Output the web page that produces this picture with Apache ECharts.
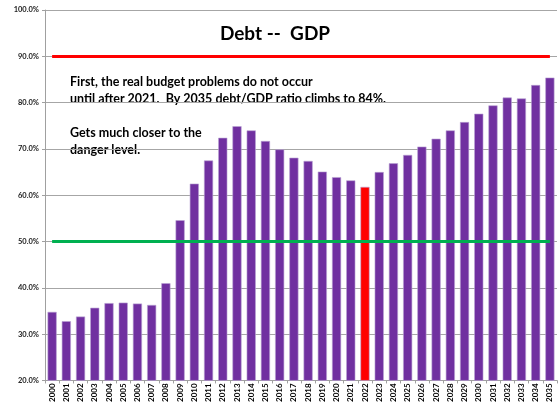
<!DOCTYPE html>
<html>
<head>
<meta charset="utf-8">
<script src="https://cdn.jsdelivr.net/npm/echarts@6/dist/echarts.min.js"></script>
<style>
  html, body { margin: 0; padding: 0; background: #fff; }
  #chart { width: 560px; height: 405px; }
</style>
</head>
<body>
<div id="chart"></div>
<script>
// debt / GDP ratio by year
const years = ['2000', '2001', '2002', '2003', '2004', '2005', '2006', '2007', '2008', '2009',
  '2010', '2011', '2012', '2013', '2014', '2015', '2016', '2017', '2018', '2019',
  '2020', '2021', '2022', '2023', '2024', '2025', '2026', '2027', '2028', '2029',
  '2030', '2031', '2032', '2033', '2034', '2035']
const debtRatio = [34.8, 32.8, 33.8, 35.7, 36.7, 36.8, 36.6, 36.3, 41.0, 54.6,
  62.5, 67.5, 72.4, 74.9, 74.0, 71.7, 69.9, 68.1, 67.4, 65.1,
  63.9, 63.2, 61.8, 65.0, 66.9, 68.7, 70.5, 72.2, 74.0, 75.8,
  77.6, 79.4, 81.1, 80.9, 83.8, 85.4]
const highlightYear = '2022'
const dangerLevel = 90
const safeLevel = 50
const yTicks = { min: 20, max: 100, step: 10 }

const noteLines = [
  'First, the real budget problems do not occur',
  'until after 2021.  By 2035 debt/GDP ratio climbs to 84%.',
  '',
  'Gets much closer to the',
  'danger level.'
]

const FONT = 'Lato, "Open Sans", sans-serif'
const purple = '#7030a0'

const chart = echarts.init(document.getElementById('chart'))

chart.setOption({
  animation: false,
  title: {
    text: 'Debt --  GDP',
    left: 270,
    top: 19,
    textAlign: 'center',
    textStyle: { fontFamily: FONT, fontSize: 19, fontWeight: 'bold', color: '#000' }
  },
  grid: { left: 45, right: 3, top: 10, bottom: 23, containLabel: false },
  xAxis: {
    type: 'category',
    data: years,
    axisLine: { lineStyle: { color: '#a0a0a0', width: 1 } },
    axisTick: { show: true, length: 3, lineStyle: { color: '#a0a0a0' } },
    axisLabel: {
      interval: 0,
      rotate: 90,
      margin: 3,
      fontFamily: FONT,
      fontSize: 8,
      fontWeight: 'bold',
      color: '#000'
    }
  },
  yAxis: {
    type: 'value',
    min: yTicks.min,
    max: yTicks.max,
    interval: yTicks.step,
    axisLine: { show: true, lineStyle: { color: '#a0a0a0' } },
    axisTick: { show: true, length: 3, lineStyle: { color: '#a0a0a0' } },
    splitLine: { lineStyle: { color: '#a6a6a6', width: 1 } },
    axisLabel: {
      formatter: v => v.toFixed(1) + '%',
      margin: 6,
      fontFamily: FONT,
      fontSize: 7.5,
      fontWeight: 'bold',
      color: '#222'
    }
  },
  graphic: [{
    type: 'text',
    left: 70,
    top: 73,
    style: {
      text: noteLines.join('\n'),
      font: 'bold 12.5px ' + FONT,
      lineHeight: 17,
      fill: '#000'
    }
  }],
  series: [{
    type: 'bar',
    barWidth: '64%',
    data: debtRatio.map((v, i) => ({
      value: v,
      itemStyle: { color: years[i] === highlightYear ? '#ff0000' : purple }
    })),
    itemStyle: { borderColor: '#b9a2d4', borderWidth: 0.6 },
    markLine: {
      silent: true,
      symbol: 'none',
      label: { show: false },
      data: [
        [{ coord: [years[0], dangerLevel], lineStyle: { color: '#ff0000', width: 3, type: 'solid' } },
         { coord: [years[years.length - 1], dangerLevel] }],
        [{ coord: [years[0], safeLevel], lineStyle: { color: '#00b050', width: 3, type: 'solid' } },
         { coord: [years[years.length - 1], safeLevel] }]
      ]
    }
  }]
})
</script>
</body>
</html>
